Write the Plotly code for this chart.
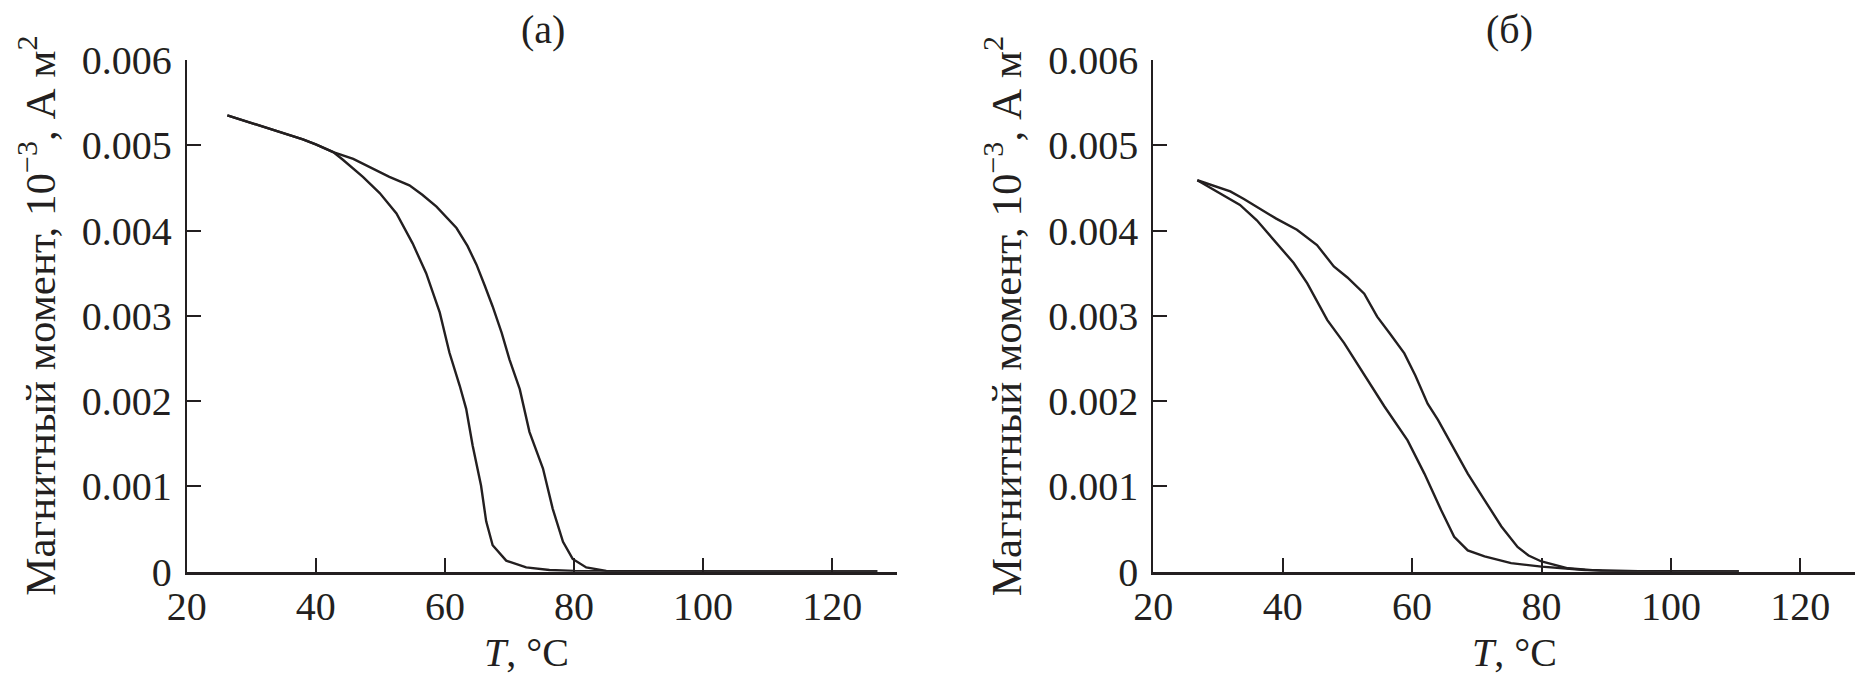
"""Magnetic moment vs temperature, two panels (а) and (б)."""

import plotly.graph_objects as go

# panel (а): upper / lower branch, T in °C, moment in 10^-3 A m^2 axis units
t_a_outer = [26.3, 30, 34, 38, 40, 42.7, 45.8, 48.5, 51.4, 54.5, 56.5, 58.7, 61.8,
             63.5, 64.9, 66.2, 67.4, 68.8, 70.0, 71.6, 73.1, 75.2, 76.7, 78.3,
             79.8, 81.9, 85, 90, 100, 110, 120, 127]
m_a_outer = [0.00535, 0.00526, 0.00516, 0.00507, 0.00501, 0.00492, 0.00484,
             0.00474, 0.00463, 0.00453, 0.00442, 0.00428, 0.00403, 0.00382,
             0.00360, 0.00335, 0.00311, 0.00280, 0.00249, 0.00214, 0.00164,
             0.00121, 0.00074, 0.00035, 0.00015, 0.00005, 0.00001, 0.000005,
             0.000003, 0.000002, 0.000002, 0.000002]

t_a_inner = [26.3, 30, 34, 38, 40, 42.7, 44.2, 47.3, 49.9, 52.5, 55.0, 57.1, 59.2,
             60.7, 62.3, 63.3, 64.3, 65.6, 66.4, 67.4, 69.5, 72.6, 76.2, 80, 90,
             100, 110, 120, 127]
m_a_inner = [0.00535, 0.00526, 0.00516, 0.00507, 0.00501, 0.00492, 0.00483,
             0.00463, 0.00444, 0.00420, 0.00385, 0.00350, 0.00304, 0.00257,
             0.00218, 0.00191, 0.00148, 0.00101, 0.00059, 0.00031, 0.00013,
             0.00005, 0.00002, 0.00001, 0.000004, 0.000003, 0.000002, 0.000002,
             0.000002]

# panel (б)
t_b_outer = [26.8, 29, 31.9, 34, 36.5, 39, 42.2, 45.3, 47.9, 50, 52.6, 54.6, 56.5,
             58.8, 60.5, 62.4, 64, 66.0, 68.6, 71.2, 73.8, 76.3, 78, 80.0, 84.1,
             89.3, 100, 110.5]
m_b_outer = [0.00459, 0.00453, 0.00446, 0.00437, 0.00426, 0.00414, 0.00401,
             0.00383, 0.00358, 0.00345, 0.00326, 0.00299, 0.00280, 0.00256,
             0.00230, 0.00197, 0.00178, 0.00151, 0.00115, 0.00084, 0.00053,
             0.00029, 0.00019, 0.00012, 0.00004, 0.00001, 0.000003, 0.000002]

t_b_inner = [26.8, 29.8, 33.4, 36.0, 38.6, 41.7, 43.8, 46.9, 49.5, 52.1, 55.7,
             59.3, 61.9, 64.5, 66.5, 68.6, 71.2, 75.3, 80.0, 86.7, 95, 110.5]
m_b_inner = [0.00459, 0.00446, 0.00430, 0.00412, 0.00389, 0.00362, 0.00338,
             0.00295, 0.00268, 0.00237, 0.00194, 0.00154, 0.00115, 0.00072,
             0.00041, 0.00025, 0.00018, 0.00010, 0.00006, 0.00002, 0.000005,
             0.000002]

y_ticks = [0, 0.001, 0.002, 0.003, 0.004, 0.005, 0.006]
y_tick_text = ["0", "0.001", "0.002", "0.003", "0.004", "0.005", "0.006"]
x_ticks = [20, 40, 60, 80, 100, 120]

W, H = 1863, 681
OFF = 8  # page body margin: figure is drawn 8px right/down in the window
INK = "#231f20"
FONT = "Liberation Serif, Times New Roman, serif"


def px(v):
    return (v - OFF) / W


def py(v):
    return 1 - (v - OFF) / H


fig = go.Figure()
line = {"color": INK, "width": 2.4}
for t, m, ax in [
    (t_a_outer, m_a_outer, ("x", "y")),
    (t_a_inner, m_a_inner, ("x", "y")),
    (t_b_outer, m_b_outer, ("x2", "y2")),
    (t_b_inner, m_b_inner, ("x2", "y2")),
]:
    fig.add_trace(go.Scatter(x=t, y=m, mode="lines", line=line,
                             xaxis=ax[0], yaxis=ax[1], showlegend=False))

y_dom = [py(571.7), py(60)]
xa = dict(range=[20, 130], tickvals=x_ticks, ticks="inside", ticklen=14,
          tickwidth=2, tickcolor=INK, showline=True, linecolor=INK, linewidth=3,
          showgrid=False, zeroline=False, ticklabelstandoff=-3, automargin=False,
          tickfont={"family": FONT, "size": 40, "color": INK})
ya = dict(range=[0, 0.006], tickvals=y_ticks, ticktext=y_tick_text,
          ticks="inside", ticklen=14, tickwidth=2, tickcolor=INK, showline=True,
          linecolor=INK, linewidth=2, showgrid=False, zeroline=False,
          domain=y_dom, ticklabelstandoff=5, automargin=False,
          tickfont={"family": FONT, "size": 40, "color": INK})

right_end = 20 + (W + OFF - 1153.3) / 6.47
fig.update_layout(
    width=W, height=H,
    margin={"l": 0, "r": 0, "t": 0, "b": 0},
    paper_bgcolor="white", plot_bgcolor="white",
    xaxis={**xa, "domain": [px(186.7), px(896.7)], "anchor": "y"},
    yaxis={**ya, "anchor": "x"},
    xaxis2={**xa, "domain": [px(1153.3), 1.0], "anchor": "y2",
            "range": [20, right_end]},
    yaxis2={**ya, "anchor": "x2"},
)


def label(text, x, y, angle=0, size=40):
    fig.add_annotation(text=text, x=px(x), y=py(y), xref="paper", yref="paper",
                       xanchor="center", yanchor="middle", showarrow=False,
                       textangle=angle, borderpad=0,
                       font={"family": FONT, "size": size, "color": INK})


label("(а)", 543, 29)
label("(б)", 1509, 29)
label("<i>T</i>, °C", 526, 652)
label("<i>T</i>, °C", 1514, 652)
ylabel = "Магнитный момент, 10<sup>−3</sup>, А м<sup>2</sup>"
for ax_x in (186.7, 1153.3):
    label(ylabel, ax_x - 150, 316, angle=-90, size=43)

fig.write_html("out.html")
